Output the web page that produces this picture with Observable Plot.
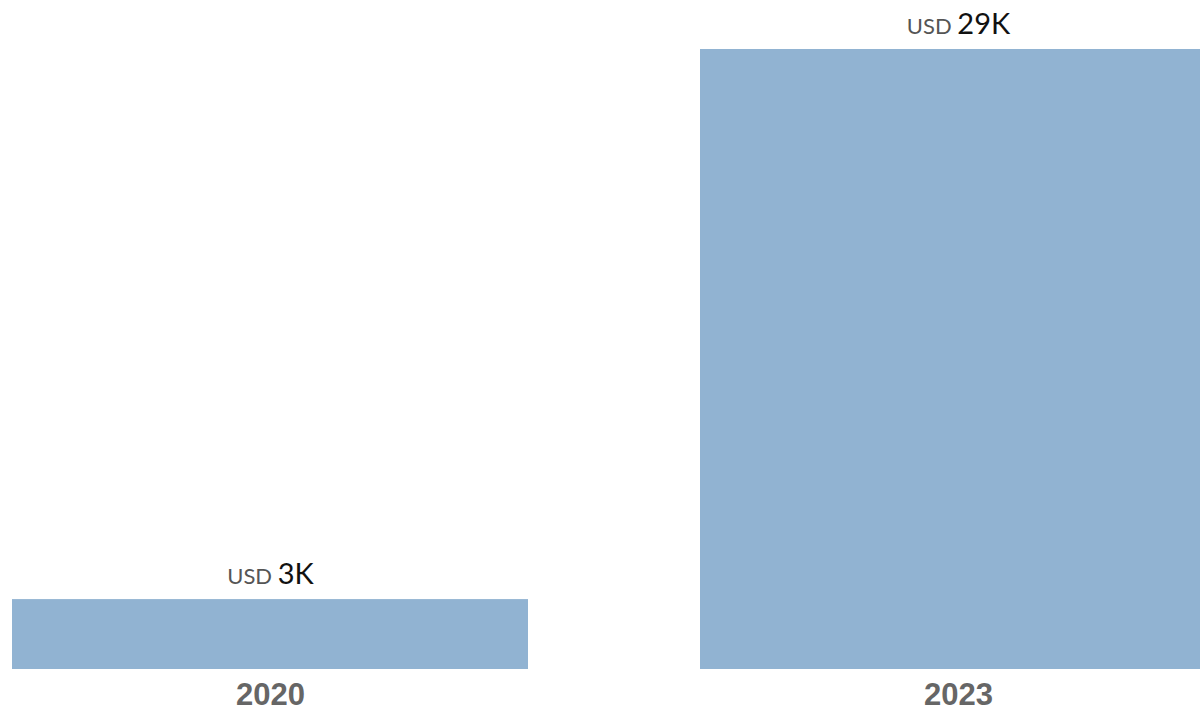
<!DOCTYPE html>
<html>
<head>
<meta charset="utf-8">
<script src="https://cdn.jsdelivr.net/npm/d3@7"></script>
<script src="https://cdn.jsdelivr.net/npm/@observablehq/plot@0.6"></script>
<style>
  html, body { margin: 0; padding: 0; background: #fff; overflow: hidden; }
  #chart svg { overflow: visible; }
</style>
</head>
<body>
<div id="chart"></div>
<script>
const years = ["2020", "2023"];
const values = [3270, 29000];
const valueLabels = ["3K", "29K"];
const currency = "USD";

const data = years.map((y, i) => ({year: y, value: values[i], label: valueLabels[i]}));

const chart = Plot.plot({
  width: 1200,
  height: 711,
  marginTop: 49,
  marginBottom: 42,
  marginLeft: 12,
  marginRight: 0,
  x: {domain: years, range: [12, 1216], paddingInner: 0.25, paddingOuter: 0, axis: null},
  y: {domain: [0, 29000], axis: null},
  marks: [
    Plot.barY(data, {x: "year", y: "value", fill: "#91b3d2"}),
    Plot.text(data, {
      x: "year", y: "value", text: d => currency + " " + d.label,
      dy: -25, lineAnchor: "middle", fontSize: 29, fill: "#111",
      fontFamily: "Lato, 'Open Sans', sans-serif", className: "vlabel"
    }),
    Plot.text(data, {
      x: "year", y: 0, text: "year", dy: 26, lineAnchor: "middle",
      fontSize: 31, fontWeight: "bold", fill: "#666",
      fontFamily: "'Liberation Sans', Arial, sans-serif"
    })
  ]
});

// Split value labels into a smaller grey currency prefix and the value
chart.querySelectorAll(".vlabel text").forEach(t => {
  const s = t.textContent;
  const idx = s.indexOf(" ");
  const pre = s.slice(0, idx), val = s.slice(idx + 1);
  t.textContent = "";
  const a = document.createElementNS("http://www.w3.org/2000/svg", "tspan");
  a.textContent = pre + " ";
  a.setAttribute("font-size", "22");
  a.setAttribute("fill", "#555");
  const b = document.createElementNS("http://www.w3.org/2000/svg", "tspan");
  b.textContent = val;
  t.appendChild(a);
  t.appendChild(b);
});

document.getElementById("chart").appendChild(chart);
</script>
</body>
</html>
